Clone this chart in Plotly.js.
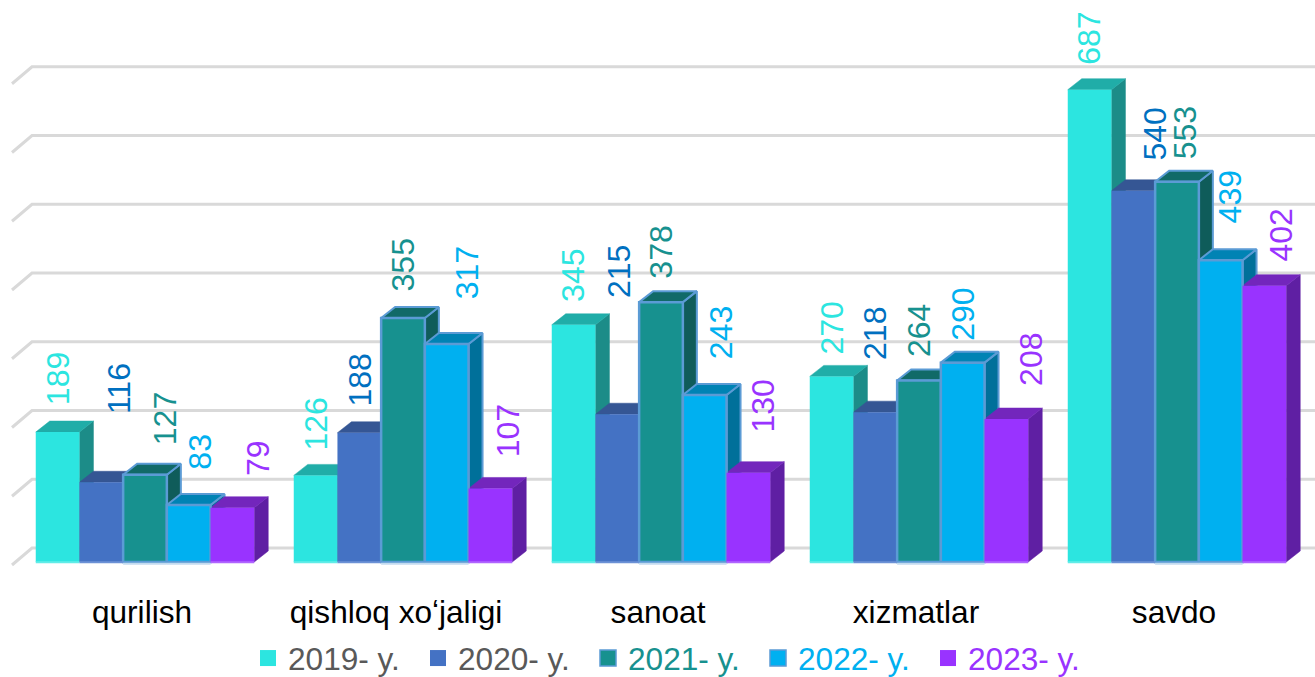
<!DOCTYPE html>
<html><head><meta charset="utf-8">
<script src="https://cdn.plot.ly/plotly-3.0.1.min.js"></script>
<style>html,body{margin:0;padding:0;background:#fff}</style></head>
<body><div id="chart" style="width:1315px;height:677px"></div>
<script>
const categories = ["qurilish","qishloq xoʻjaligi","sanoat","xizmatlar","savdo"];
const seriesNames = ["2019- y.","2020- y.","2021- y.","2022- y.","2023- y."];
const v2019 = [189,126,345,270,687];
const v2020 = [116,188,215,218,540];
const v2021 = [127,355,378,264,553];
const v2022 = [83,317,243,290,439];
const v2023 = [79,107,130,208,402];
const gridLevels = [0,100,200,300,400,500,600,700];

const values = [v2019,v2020,v2021,v2022,v2023];
const frontCol = ["#2CE5E0","#4472C4","#17918F","#00B0F0","#9933FF"];
const sideCol  = ["#1C8C88","#2F5597","#0F5C5A","#00709A","#5F1FA3"];
const topCol   = ["#20ADA8","#355694","#116A68","#0083B4","#7326BC"];
const labelCol = ["#2CE5E0","#0070C0","#17918F","#00B0F0","#9933FF"];
const legendCol= ["#595959","#595959","#17918F","#00B0F0","#9933FF"];
const edgeCol  = [null,null,"#5B9BD5","#5B9BD5",null];
const footCol  = ["#62ECE8","#6C92D6","#C3DBF0","#C3DBF0","#B066FF"];
// label placement (px), per series and category
const labelDx = [[0,0,0,0,0],[17,1,1,-1,22],[20,0,0,0,8],[11,20,17,0,9],[25,18,15,24,17]];
const labelLift = [[26,24,22,21,24],[67,25,115,51,29],[28,25,22,22,21],[34,44,35,21,36],[31,30,39,32,23]];
const tickNudge = [-3,-7,-3,-3,-3];

const W=1315,H=677,plotH=590,base=562,pxPerCat=258,pxPerUnit=0.6875,firstCenter=145;
const barPx=43.7, FONT='"Liberation Sans", Arial, sans-serif', FS=31.6, FSL=32;
const xr=[(0-firstCenter)/pxPerCat,(W-firstCenter)/pxPerCat];
const yr=[(base-plotH)/pxPerUnit,base/pxPerUnit];
const dx=14/pxPerCat, dy=11/pxPerUnit, wallDx=20/pxPerCat, wallBack=14/pxPerUnit, wallFront=-3/pxPerUnit;
const bw=barPx/pxPerCat;
const idx=categories.map((_,i)=>i);

const traces=[];
const gx=[],gy=[];
gridLevels.forEach(g=>{
  gx.push(xr[0]+12/pxPerCat,xr[0]+12/pxPerCat+wallDx,xr[1],null);
  gy.push(g+wallFront,g+wallBack,g+wallBack,null);
});
traces.push({type:'scatter',mode:'lines',x:gx,y:gy,line:{color:'#D9D9D9',width:3},hoverinfo:'skip',showlegend:false});
values.forEach((vals,s)=>{
  const sx=[],sy=[],tx=[],ty=[];
  vals.forEach((v,i)=>{
    const l=i+(s-2.5)*bw, r=l+bw;
    sx.push(r,r+dx,r+dx,r,r,null); sy.push(0,dy,v+dy,v,0,null);
    tx.push(l,l+dx,r+dx,r,l,null); ty.push(v,v+dy,v+dy,v,v,null);
  });
  const ln=c=>edgeCol[s]?{color:edgeCol[s],width:2}:{color:c,width:0.5};
  traces.push({type:'scatter',mode:'lines',x:sx,y:sy,fill:'toself',fillcolor:sideCol[s],line:ln(sideCol[s]),hoverinfo:'skip',showlegend:false});
  traces.push({type:'scatter',mode:'lines',x:tx,y:ty,fill:'toself',fillcolor:topCol[s],line:ln(topCol[s]),hoverinfo:'skip',showlegend:false});
});
values.forEach((vals,s)=>{
  traces.push({type:'bar',x:idx,y:vals,name:seriesNames[s],xaxis:'x2',yaxis:'y2',showlegend:false,
    marker:{color:frontCol[s],line:{color:edgeCol[s]||frontCol[s],width:edgeCol[s]?2.5:0}}});
});
// pale foot edge under each front
values.forEach((vals,s)=>{
  const fx=[],fy=[];
  vals.forEach((v,i)=>{
    const l=i+(s-2.5)*bw, r=l+bw;
    fx.push(l,r,null); fy.push(edgeCol[s]?-2.6:-0.4,edgeCol[s]?-2.6:-0.4,null);
  });
  traces.push({type:'scatter',mode:'lines',x:fx,y:fy,xaxis:'x2',yaxis:'y2',line:{color:footCol[s],width:2},hoverinfo:'skip',showlegend:false});
});
values.forEach((vals,s)=>{
  traces.push({type:'scatter',mode:'markers',x:[null],y:[null],
    name:'<span style="color:'+legendCol[s]+'">'+seriesNames[s]+'</span>',
    marker:{symbol:'square',size:16,color:frontCol[s],line:{color:edgeCol[s]||frontCol[s],width:edgeCol[s]?1.5:0}}});
});
const annotations=[];
values.forEach((vals,s)=>vals.forEach((v,i)=>{
  annotations.push({xref:'x',yref:'y',x:i+(s-2)*bw,y:v,text:String(v),textangle:-90,showarrow:false,
    xanchor:'center',yanchor:'bottom',xshift:labelDx[s][i],yshift:labelLift[s][i],
    font:{family:FONT,size:FSL,color:labelCol[s]},borderpad:0});
}));
const layout={
  width:W,height:H,autosize:false,paper_bgcolor:'#fff',plot_bgcolor:'#fff',
  margin:{l:0,r:0,t:0,b:H-plotH,pad:0},
  barmode:'group',bargap:1-5*bw,bargroupgap:0,showlegend:true,hovermode:false,
  font:{family:FONT,size:FS,color:'#000'},
  xaxis:{range:xr,type:'linear',tickmode:'array',tickvals:idx.map(i=>i+tickNudge[i]/pxPerCat),ticktext:categories,
    showgrid:false,zeroline:false,showline:false,ticks:'',tickfont:{family:FONT,size:FS,color:'#000'},automargin:false},
  yaxis:{range:yr,visible:false,showgrid:false,zeroline:false},
  xaxis2:{range:xr,overlaying:'x',visible:false,anchor:'y2'},
  yaxis2:{range:yr,overlaying:'y',visible:false,anchor:'x2'},
  legend:{orientation:'h',xref:'container',yref:'container',x:248/W,xanchor:'left',y:(H-658.5)/H,yanchor:'middle',
    entrywidth:125,entrywidthmode:'pixels',itemwidth:30,font:{family:FONT,size:FS,color:'#595959'},
    bgcolor:'rgba(0,0,0,0)',itemclick:false,itemdoubleclick:false},
  annotations
};
Plotly.newPlot('chart',traces,layout,{displayModeBar:false,staticPlot:true});
</script></body></html>
